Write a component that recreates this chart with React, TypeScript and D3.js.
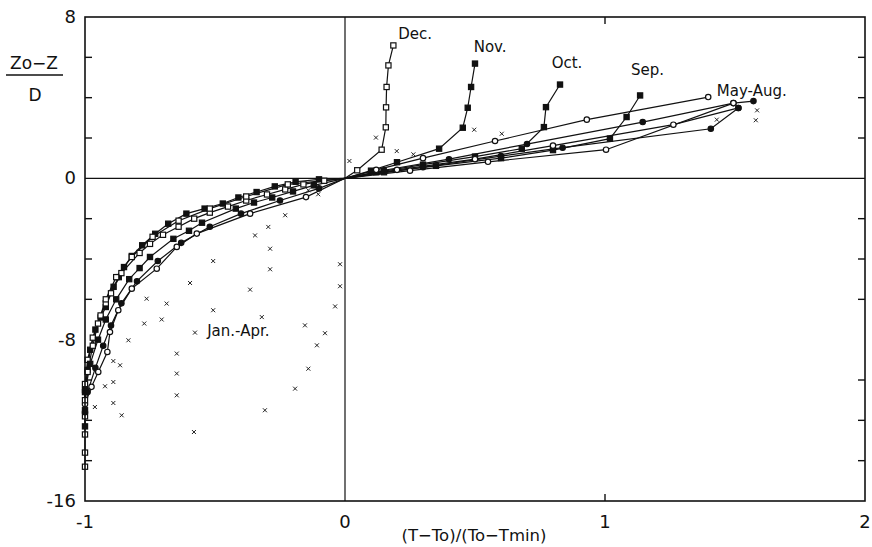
import React from "react";
import * as d3 from "d3";

type P = [number, number];

// Upper-layer profiles (month labels)
const decUpper: P[] = [[0, 0], [0.047, 0.4], [0.141, 1.42], [0.157, 2.53], [0.158, 3.52], [0.16, 4.53], [0.167, 5.6], [0.186, 6.59]];
const novUpper: P[] = [[0, 0], [0.1, 0.38], [0.2, 0.8], [0.362, 1.47], [0.453, 2.51], [0.472, 3.5], [0.485, 4.53], [0.5, 5.69]];
const octUpper: P[] = [[0, 0], [0.12, 0.3], [0.3, 0.68], [0.5, 1.08], [0.68, 1.47], [0.765, 2.54], [0.773, 3.53], [0.827, 4.65]];
const sepUpper: P[] = [[0, 0], [0.15, 0.3], [0.35, 0.62], [0.6, 1.0], [0.8, 1.4], [1.019, 1.97], [1.083, 3.04], [1.135, 4.11]];
const mayUpper: P[] = [[0, 0], [0.12, 0.42], [0.3, 1.0], [0.577, 1.85], [0.93, 2.91], [1.397, 4.03]];
const junUpper: P[] = [[0, 0], [0.15, 0.4], [0.4, 0.95], [0.7, 1.7], [1.145, 2.79], [1.494, 3.73], [1.571, 3.83]];
const julUpper: P[] = [[0, 0], [0.2, 0.42], [0.5, 0.95], [0.8, 1.62], [1.263, 2.66], [1.513, 3.49]];
const augUpper: P[] = [[0, 0], [0.25, 0.38], [0.55, 0.82], [1.004, 1.42], [1.494, 3.73]];
const augUpper2: P[] = [[0, 0], [0.3, 0.55], [0.6, 1.1], [0.837, 1.52], [1.407, 2.46], [1.513, 3.49]];

// Lower-layer profiles
const lowerA: P[] = [[0, 0], [-0.1, -0.05], [-0.19, -0.17], [-0.27, -0.4], [-0.34, -0.68], [-0.41, -0.95], [-0.47, -1.25], [-0.54, -1.5], [-0.61, -1.75], [-0.68, -2.25], [-0.73, -2.75], [-0.78, -3.32], [-0.82, -3.85], [-0.85, -4.4], [-0.87, -4.9], [-0.89, -5.38], [-0.92, -6.38], [-0.94, -6.9], [-0.96, -7.5], [-0.98, -8.5], [-0.99, -9.5], [-1, -10.5], [-1, -11.5]];
const lowerB: P[] = [[0, 0], [-0.08, -0.12], [-0.16, -0.3], [-0.23, -0.55], [-0.3, -0.8], [-0.38, -1.1], [-0.45, -1.4], [-0.52, -1.7], [-0.58, -2.0], [-0.64, -2.4], [-0.7, -2.8], [-0.75, -3.25], [-0.79, -3.7], [-0.86, -4.7], [-0.9, -5.7], [-0.92, -6.2], [-0.94, -6.8], [-0.97, -7.9], [-0.99, -9.0], [-1, -10.2], [-1, -11.8]];
const lowerC: P[] = [[0, 0], [-0.12, -0.35], [-0.2, -0.65], [-0.28, -0.95], [-0.35, -1.2], [-0.42, -1.5], [-0.55, -2.2], [-0.6, -2.6], [-0.66, -3.0], [-0.75, -3.9], [-0.79, -4.45], [-0.83, -5.0], [-0.88, -6.0], [-0.92, -7.0], [-0.95, -8.0], [-0.98, -9.2], [-1, -10.6], [-1, -12.3]];
const lowerD: P[] = [[0, 0], [-0.1, -0.5], [-0.25, -1.1], [-0.4, -1.75], [-0.52, -2.4], [-0.63, -3.2], [-0.72, -4.1], [-0.8, -5.1], [-0.86, -6.2], [-0.9, -7.3], [-0.93, -8.3], [-0.96, -9.4], [-0.99, -10.6], [-1, -11.6]];
const lowerE: P[] = [[0, 0], [-0.15, -0.93], [-0.365, -1.75], [-0.57, -2.74], [-0.647, -3.4], [-0.724, -4.48], [-0.82, -5.47], [-0.872, -6.54], [-0.904, -7.62], [-0.914, -8.61], [-0.949, -9.6], [-0.975, -10.34], [-1, -11.2]];
const lowerF: P[] = [[0, 0], [-0.22, -0.3], [-0.38, -0.9], [-0.52, -1.5], [-0.64, -2.1], [-0.74, -2.9], [-0.82, -3.9], [-0.88, -4.9], [-0.92, -6.0], [-0.95, -7.2], [-0.97, -8.3], [-0.99, -9.6], [-1, -11], [-1, -12.7], [-1, -13.6], [-1, -14.3]];

// Scattered (x) observations, Jan.-Apr.
const scatterPts: P[] = [
  [-0.295, -2.41], [-0.346, -2.83], [-0.23, -1.83], [-0.288, -3.49], [-0.507, -4.1], [-0.288, -4.51],
  [-0.019, -4.26], [-0.019, -5.35], [-0.038, -6.35], [-0.596, -5.19], [-0.365, -5.52], [-0.763, -5.97],
  [-0.686, -6.21], [-0.507, -6.54], [-0.32, -6.88], [-0.141, -0.59], [-0.103, -0.79], [-0.772, -7.2],
  [-0.705, -7.0], [-0.577, -7.65], [-0.833, -8.03], [-0.647, -8.69], [-0.891, -9.06], [-0.865, -9.27],
  [-0.647, -9.68], [-0.923, -10.31], [-0.891, -10.1], [-0.647, -10.76], [-0.962, -11.34], [-0.891, -11.14],
  [-0.859, -11.75], [-0.581, -12.58], [-0.141, -9.44], [-0.192, -10.43], [-0.308, -11.5], [-0.154, -7.29],
  [-0.108, -8.28], [-0.077, -7.68],
  [0.119, 2.02], [0.199, 1.35], [0.263, 1.19], [0.497, 2.41], [0.603, 2.21], [0.017, 0.86],
  [1.43, 2.91], [1.58, 2.88], [1.585, 3.37],
];

const xTickLabels = ["-1", "0", "1", "2"];
const xTickValues = [-1, 0, 1, 2];
const yTickLabels = ["8", "0", "-8", "-16"];
const yTickValues = [8, 0, -8, -16];
const yMinorTicks = [6, 4, 2, -2, -4, -6, -10, -12, -14];

type Series = { pts: P[]; marker: "sq" | "sqf" | "ci" | "cif" };
const seriesList: Series[] = [
  { pts: decUpper, marker: "sq" },
  { pts: novUpper, marker: "sqf" },
  { pts: octUpper, marker: "sqf" },
  { pts: sepUpper, marker: "sqf" },
  { pts: mayUpper, marker: "ci" },
  { pts: junUpper, marker: "cif" },
  { pts: julUpper, marker: "ci" },
  { pts: augUpper, marker: "ci" },
  { pts: augUpper2, marker: "cif" },
  { pts: lowerA, marker: "sqf" },
  { pts: lowerB, marker: "sq" },
  { pts: lowerC, marker: "sqf" },
  { pts: lowerD, marker: "cif" },
  { pts: lowerE, marker: "ci" },
  { pts: lowerF, marker: "sq" },
];

const monthLabels = [
  { t: "Dec.", x: 0.205, y: 6.9 },
  { t: "Nov.", x: 0.495, y: 6.25 },
  { t: "Oct.", x: 0.795, y: 5.45 },
  { t: "Sep.", x: 1.1, y: 5.1 },
  { t: "May-Aug.", x: 1.43, y: 4.1 },
  { t: "Jan.-Apr.", x: -0.53, y: -7.8 },
];

export default function App() {
  const W = 872, H = 547;
  const x = d3.scaleLinear().domain([-1, 2]).range([85, 865]);
  const y = d3.scaleLinear().domain([-16, 8]).range([501, 17]);
  const line = d3.line<P>().x(d => x(d[0])).y(d => y(d[1]));
  const font = "'DejaVu Sans', 'Liberation Sans', sans-serif";

  const marker = (m: string, p: P, k: string) => {
    const cx = x(p[0]), cy = y(p[1]);
    const filled = m === "sqf" || m === "cif";
    if (m === "sq" || m === "sqf") {
      return <rect key={k} x={cx - 2.6} y={cy - 2.6} width={5.2} height={5.2} fill={filled ? "#111" : "#fff"} stroke="#111" strokeWidth={1.2} />;
    }
    return <circle key={k} cx={cx} cy={cy} r={2.7} fill={filled ? "#111" : "#fff"} stroke="#111" strokeWidth={1.2} />;
  };

  return (
    <svg width={W} height={H} style={{ display: "block", position: "absolute", left: 0, top: 0, background: "#fff" }}>
      <rect x={0} y={0} width={W} height={H} fill="#fff" />
      {/* zero lines */}
      <line x1={x(-1)} x2={x(2)} y1={y(0)} y2={y(0)} stroke="#111" strokeWidth={1.4} />
      <line x1={x(0)} x2={x(0)} y1={y(8)} y2={y(-16)} stroke="#111" strokeWidth={1.2} />
      {/* series lines */}
      {seriesList.map((s, i) => (
        <path key={"l" + i} d={line(s.pts) || ""} fill="none" stroke="#111" strokeWidth={1.2} />
      ))}
      {seriesList.map((s, i) => s.pts.slice(1).map((p, j) => marker(s.marker, p, `m${i}-${j}`)))}
      {scatterPts.map((p, i) => (
        <g key={"x" + i} stroke="#222" strokeWidth={1}>
          <line x1={x(p[0]) - 2} x2={x(p[0]) + 2} y1={y(p[1]) - 2} y2={y(p[1]) + 2} />
          <line x1={x(p[0]) - 2} x2={x(p[0]) + 2} y1={y(p[1]) + 2} y2={y(p[1]) - 2} />
        </g>
      ))}
      {/* frame */}
      <rect x={x(-1)} y={y(8)} width={x(2) - x(-1)} height={y(-16) - y(8)} fill="none" stroke="#111" strokeWidth={1.6} />
      {yMinorTicks.map(v => (
        <g key={"t" + v} stroke="#111" strokeWidth={1.4}>
          <line x1={x(-1)} x2={x(-1) + 7} y1={y(v)} y2={y(v)} />
          <line x1={x(2)} x2={x(2) - 7} y1={y(v)} y2={y(v)} />
        </g>
      ))}
      <line x1={x(1)} x2={x(1)} y1={y(-16)} y2={y(-16) - 7} stroke="#111" strokeWidth={1.4} />
      <line x1={x(1)} x2={x(1)} y1={y(8)} y2={y(8) + 7} stroke="#111" strokeWidth={1.4} />
      {/* tick labels */}
      {yTickValues.map((v, i) => (
        <text key={"yl" + i} x={x(-1) - 9} y={y(v) + 6} textAnchor="end" fontFamily={font} fontSize={18} fill="#111">{yTickLabels[i]}</text>
      ))}
      {xTickValues.map((v, i) => (
        <text key={"xl" + i} x={x(v)} y={y(-16) + 27} textAnchor="middle" fontFamily={font} fontSize={18} fill="#111">{xTickLabels[i]}</text>
      ))}
      {/* axis titles */}
      <text x={34} y={69} textAnchor="middle" fontFamily={font} fontSize={17} fill="#111">Zo−Z</text>
      <line x1={6} x2={63} y1={75} y2={75} stroke="#111" strokeWidth={1.5} />
      <text x={35} y={101} textAnchor="middle" fontFamily={font} fontSize={17} fill="#111">D</text>
      <text x={474} y={541} textAnchor="middle" fontFamily={font} fontSize={16.5} fill="#111">(T−To)/(To−Tmin)</text>
      {monthLabels.map((l, i) => (
        <text key={"ml" + i} x={x(l.x)} y={y(l.y)} fontFamily={font} fontSize={15} fill="#111">{l.t}</text>
      ))}
    </svg>
  );
}
